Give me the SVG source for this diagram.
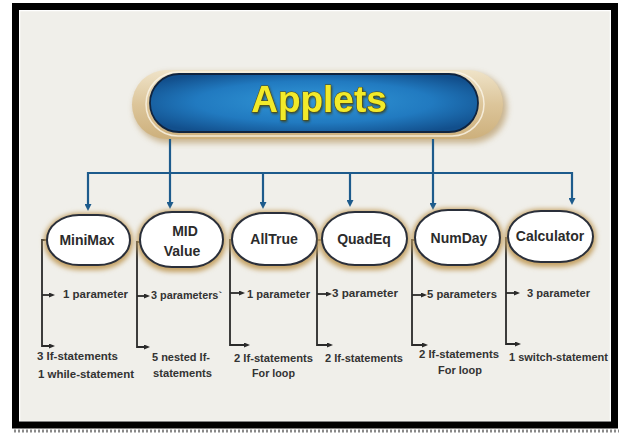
<svg xmlns="http://www.w3.org/2000/svg" width="619" height="435" viewBox="0 0 619 435">
<style>
.nodebox{fill:#ffffff;stroke:#2a2f3a;stroke-width:2}
.glow{fill:#c4a163;filter:url(#blur)}
.ntext{font-family:"Liberation Sans",Arial,sans-serif;font-weight:bold;font-size:14px;fill:#2b2b2b;text-anchor:middle}
.lbl{font-family:"Liberation Sans",Arial,sans-serif;font-weight:bold;font-size:11.5px;fill:#333333}
.blue{fill:none;stroke:#1d5b8c;stroke-width:2.2;marker-end:url(#barrow)}
.bluel{fill:none;stroke:#1d5b8c;stroke-width:2.2}
.dark{fill:none;stroke:#2a2a2a;stroke-width:1.8}
.darka{fill:none;stroke:#2a2a2a;stroke-width:1.8;marker-end:url(#darrow)}
</style>
<defs>
<filter id="blur" x="-20%" y="-30%" width="140%" height="160%"><feGaussianBlur stdDeviation="2.5"/></filter>
<filter id="blur2" x="-10%" y="-30%" width="120%" height="160%"><feGaussianBlur stdDeviation="3"/></filter>
<filter id="tshadow" x="-10%" y="-20%" width="120%" height="150%"><feDropShadow dx="1" dy="1.5" stdDeviation="0.8" flood-color="#3a3000" flood-opacity="0.7"/></filter>
<linearGradient id="tan" x1="0" y1="0" x2="0" y2="1">
<stop offset="0" stop-color="#efe3c8"/>
<stop offset="0.5" stop-color="#dcc59a"/>
<stop offset="1" stop-color="#cdb07c"/>
</linearGradient>
<radialGradient id="bluegrad" cx="0.5" cy="0.5" r="0.6" fx="0.5" fy="0.45">
<stop offset="0" stop-color="#3298d8"/>
<stop offset="0.6" stop-color="#217ac0"/>
<stop offset="1" stop-color="#124f8c"/>
</radialGradient>
<marker id="barrow" markerUnits="userSpaceOnUse" markerWidth="8" markerHeight="7" refX="0" refY="3.5" orient="auto">
<path d="M0,0 L7,3.5 L0,7 z" fill="#1d5b8c"/>
</marker>
<marker id="darrow" markerUnits="userSpaceOnUse" markerWidth="7" markerHeight="6" refX="0" refY="2.5" orient="auto">
<path d="M0,0 L6,2.5 L0,5 z" fill="#2a2a2a"/>
</marker>
</defs>

<rect x="0" y="0" width="619" height="435" fill="#ffffff"/>
<line x1="14" y1="431" x2="619" y2="431" stroke="#8a8a8a" stroke-width="3" stroke-dasharray="2 2"/>
<rect x="19" y="10" width="592" height="412" fill="#f0efea"/>
<rect x="19.5" y="10.5" width="591" height="411" fill="none" stroke="#ffffff" stroke-width="1.5"/>
<rect x="15.5" y="6.5" width="599" height="418.5" fill="none" stroke="#000000" stroke-width="7"/>

<g id="applets">
<rect x="134" y="73" width="373" height="70" rx="35" fill="#b89a66" opacity="0.7" filter="url(#blur2)"/>
<rect x="132" y="70" width="371" height="69" rx="34.5" fill="url(#tan)"/>
<rect x="146" y="72" width="338" height="64" rx="32" fill="none" stroke="#fbf6ea" stroke-width="1.5" opacity="0.8"/>
<rect x="150" y="74" width="328" height="58" rx="29" fill="url(#bluegrad)" stroke="#10243f" stroke-width="1.8"/>
<text x="319" y="112" font-family="'Liberation Sans',Arial,sans-serif" font-weight="bold" font-size="37" fill="#f2ea2c" stroke="#5a4c08" stroke-width="1" paint-order="stroke" text-anchor="middle" filter="url(#tshadow)">Applets</text>
</g>

<g id="connectors">
<path class="blue" d="M170 139 V202"/>
<path class="blue" d="M433 139 V203"/>
<path class="bluel" d="M87 173 H573"/>
<path class="blue" d="M88 172 V204"/>
<path class="blue" d="M263 172 V202"/>
<path class="blue" d="M350 172 V200"/>
<path class="blue" d="M572 172 V198"/>

<path class="darka" d="M47 240 H42 V346 H49"/>
<path class="darka" d="M42 295 H49"/>
<path class="darka" d="M140 242 H137 V347 H144"/>
<path class="darka" d="M137 296 H144"/>
<path class="darka" d="M232 240 H230 V345 H244"/>
<path class="darka" d="M230 293 H239"/>
<path class="darka" d="M322 240 H317 V345 H327"/>
<path class="darka" d="M317 294 H326"/>
<path class="darka" d="M415 240 H412 V345 H422"/>
<path class="darka" d="M412 295 H421"/>
<path class="darka" d="M508 238 H506 V344 H515"/>
<path class="darka" d="M506 293 H514"/>
</g>

<g id="minimax">
<rect class="glow" x="44" y="213" width="89" height="57" rx="35" ry="28"/>
<rect class="nodebox" x="47" y="215" width="83" height="50" rx="32" ry="25"/>
<text class="ntext" x="87" y="245">MiniMax</text>
</g>
<g id="midvalue">
<rect class="glow" x="137" y="210" width="89" height="62" rx="35" ry="30"/>
<rect class="nodebox" x="140" y="212" width="83" height="55" rx="32" ry="27.5"/>
<text class="ntext" x="185" y="236">MID</text>
<text class="ntext" x="182" y="256">Value</text>
</g>
<g id="alltrue">
<rect class="glow" x="229" y="211" width="91" height="59" rx="35" ry="29"/>
<rect class="nodebox" x="232" y="213" width="85" height="52" rx="33" ry="26"/>
<text class="ntext" x="274" y="244">AllTrue</text>
</g>
<g id="quadeq">
<rect class="glow" x="319" y="210" width="91" height="60" rx="35" ry="29"/>
<rect class="nodebox" x="322" y="212" width="85" height="53" rx="33" ry="26.5"/>
<text class="ntext" x="364" y="244">QuadEq</text>
</g>
<g id="numday">
<rect class="glow" x="412" y="208" width="91" height="62" rx="35" ry="30"/>
<rect class="nodebox" x="415" y="210" width="85" height="55" rx="33" ry="27.5"/>
<text class="ntext" x="459" y="243">NumDay</text>
</g>
<g id="calculator">
<rect class="glow" x="505" y="209" width="91" height="58" rx="35" ry="28"/>
<rect class="nodebox" x="508" y="211" width="85" height="51" rx="33" ry="25.5"/>
<text class="ntext" x="550" y="241">Calculator</text>
</g>

<g id="labels">
<text class="lbl" x="63" y="298" textLength="65" lengthAdjust="spacingAndGlyphs">1 parameter</text>
<text class="lbl" x="151" y="299" textLength="71" lengthAdjust="spacingAndGlyphs">3 parameters`</text>
<text class="lbl" x="247" y="298" textLength="63" lengthAdjust="spacingAndGlyphs">1 parameter</text>
<text class="lbl" x="332" y="297" textLength="66" lengthAdjust="spacingAndGlyphs">3 parameter</text>
<text class="lbl" x="427" y="298" textLength="70" lengthAdjust="spacingAndGlyphs">5 parameters</text>
<text class="lbl" x="527" y="297" textLength="63" lengthAdjust="spacingAndGlyphs">3 parameter</text>

<text class="lbl" x="37" y="360" textLength="81" lengthAdjust="spacingAndGlyphs">3 If-statements</text>
<text class="lbl" x="38" y="378" textLength="96" lengthAdjust="spacingAndGlyphs">1 while-statement</text>
<text class="lbl" x="152" y="361" textLength="58" lengthAdjust="spacingAndGlyphs">5 nested If-</text>
<text class="lbl" x="153" y="377" textLength="59" lengthAdjust="spacingAndGlyphs">statements</text>
<text class="lbl" x="234" y="362" textLength="79" lengthAdjust="spacingAndGlyphs">2 If-statements</text>
<text class="lbl" x="252" y="377" textLength="43" lengthAdjust="spacingAndGlyphs">For loop</text>
<text class="lbl" x="325" y="362" textLength="78" lengthAdjust="spacingAndGlyphs">2 If-statements</text>
<text class="lbl" x="419" y="358" textLength="80" lengthAdjust="spacingAndGlyphs">2 If-statements</text>
<text class="lbl" x="438" y="374" textLength="44" lengthAdjust="spacingAndGlyphs">For loop</text>
<text class="lbl" x="509" y="361" textLength="99" lengthAdjust="spacingAndGlyphs">1 switch-statement</text>
</g>
</svg>
